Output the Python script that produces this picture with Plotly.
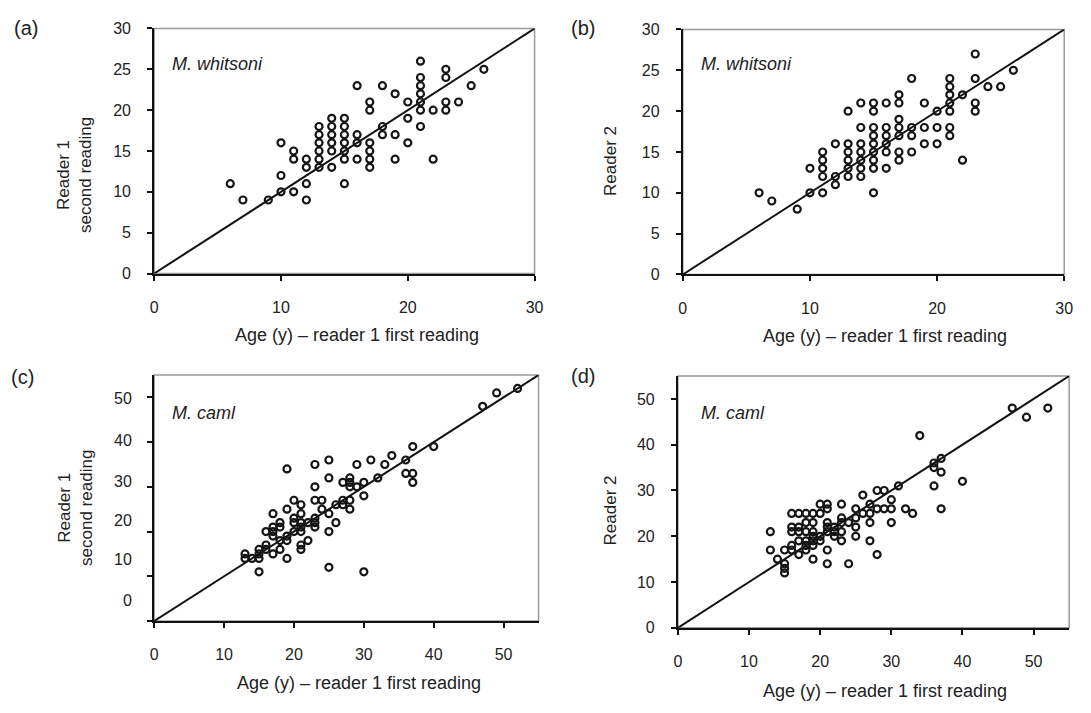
import plotly.graph_objects as go

# ---------------- data ----------------
# (a) M. whitsoni: reader 1 first reading vs reader 1 second reading
A_FIRST = [6, 7, 9, 10, 10, 10, 11, 11, 11, 12, 12, 12, 12,
           13, 13, 13, 13, 13, 13, 14, 14, 14, 14, 14, 14,
           15, 15, 15, 15, 15, 15, 15, 16, 16, 16, 16,
           17, 17, 17, 17, 17, 17, 18, 18, 18, 19, 19, 19, 20, 20, 20,
           21, 21, 21, 21, 21, 21, 21, 22, 22, 23, 23, 23, 23, 24, 25, 26]
A_SECOND = [11, 9, 9, 10, 12, 16, 10, 14, 15, 11, 9, 13, 14,
            13, 14, 15, 16, 17, 18, 19, 18, 17, 16, 15, 13,
            19, 18, 17, 16, 15, 14, 11, 23, 17, 16, 14,
            21, 20, 16, 15, 14, 13, 23, 18, 17, 22, 17, 14, 21, 19, 16,
            26, 24, 23, 22, 21, 20, 18, 20, 14, 25, 24, 21, 20, 21, 23, 25]

# (b) M. whitsoni: reader 1 first reading vs reader 2
B_FIRST = [6, 7, 9, 10, 10, 11, 11, 11, 11, 11, 12, 12, 12,
           13, 13, 13, 13, 13, 13, 14, 14, 14, 14, 14, 14, 14,
           15, 15, 15, 15, 15, 15, 15, 15, 15, 16, 16, 16, 16, 16, 16,
           17, 17, 17, 17, 17, 17, 17, 18, 18, 18, 18, 19, 19, 19,
           20, 20, 20, 21, 21, 21, 21, 21, 21, 21, 22, 22,
           23, 23, 23, 23, 24, 25, 26]
B_READER2 = [10, 9, 8, 10, 13, 15, 14, 13, 12, 10, 16, 12, 11,
             20, 16, 15, 14, 13, 12, 21, 18, 16, 15, 14, 13, 12,
             21, 20, 18, 17, 16, 15, 14, 13, 10, 21, 18, 17, 16, 15, 13,
             22, 21, 19, 18, 17, 15, 14, 24, 18, 17, 15, 21, 18, 16,
             20, 18, 16, 24, 23, 22, 21, 20, 18, 17, 22, 14,
             27, 24, 21, 20, 23, 23, 25]

# (c) M. caml: reader 1 first reading vs reader 1 second reading
C_FIRST = [52, 49, 47, 40, 37, 37, 37, 36, 36, 34, 33, 32, 31,
           30, 30, 30, 29, 29, 28, 28, 28, 28, 28, 27, 27, 27, 26, 26,
           25, 25, 25, 25, 25, 24, 24, 23, 23, 23, 23, 23, 23, 22, 22,
           21, 21, 21, 21, 21, 21, 21, 20, 20, 20, 20,
           19, 19, 19, 19, 19, 18, 18, 18, 18, 17, 17, 17, 17, 17,
           16, 16, 16, 15, 15, 15, 15, 14, 13, 13]
C_SECOND = [52, 51, 48, 39, 39, 33, 31, 36, 33, 37, 35, 32, 36,
            31, 28, 11, 35, 30, 32, 31, 30, 27, 25, 31, 27, 26, 26, 22,
            36, 32, 24, 20, 12, 27, 25, 35, 30, 27, 23, 22, 21, 22, 18,
            26, 24, 22, 21, 20, 17, 16, 27, 23, 22, 20,
            34, 25, 19, 18, 14, 22, 21, 18, 16, 24, 21, 20, 19, 15,
            20, 17, 16, 16, 15, 14, 11, 14, 15, 14]

# (d) M. caml: reader 1 first reading vs reader 2
D_FIRST = [52, 49, 47, 34, 40, 37, 37, 37, 36, 36, 36, 31, 33, 32,
           30, 30, 30, 29, 29, 28, 28, 28, 27, 27, 27, 27, 26, 26,
           25, 25, 25, 25, 24, 24, 23, 23, 23, 23, 23, 22, 22, 22,
           21, 21, 21, 21, 21, 21, 21, 20, 20, 20, 20,
           19, 19, 19, 19, 19, 19, 19, 18, 18, 18, 18, 18, 18,
           17, 17, 17, 17, 17, 16, 16, 16, 16, 16, 15, 15, 15, 15, 14, 13, 13]
D_READER2 = [48, 46, 48, 42, 32, 37, 34, 26, 36, 35, 31, 31, 25, 26,
             28, 26, 23, 30, 26, 30, 26, 16, 27, 25, 23, 19, 29, 25,
             26, 24, 22, 20, 23, 14, 27, 24, 23, 21, 19, 22, 21, 20,
             27, 26, 23, 22, 21, 17, 14, 27, 25, 20, 19,
             25, 23, 21, 20, 19, 18, 15, 25, 23, 21, 19, 18, 17,
             25, 22, 21, 19, 16, 25, 22, 21, 18, 17, 17, 14, 13, 12, 15, 21, 17]

PANEL_LETTERS = ["(a)", "(b)", "(c)", "(d)"]
SPECIES = ["M. whitsoni", "M. whitsoni", "M. caml", "M. caml"]
Y_TITLES = ["Reader 1<br>second reading", "Reader 2", "Reader 1<br>second reading", "Reader 2"]
X_TITLE = "Age (y) \u2013 reader 1 first reading"
AXIS_MAX = [30, 30, 55, 55]
X_DTICK = [10, 10, 10, 10]
Y_DTICK = [5, 5, 10, 10]
C_YTICK_TEXT = ["50", "40", "30", "20", "10", "0"]
C_YTICK_AT = [49.8, 40.4, 31.1, 22.4, 13.7, 4.7]   # label positions as printed in panel (c)

# ---------------- layout geometry (pixels) ----------------
W, H = 1091, 713
FONT = "Liberation Sans, Arial, sans-serif"
BOX = [  # left, right, top, bottom
    (152, 537, 21, 272),
    (687, 1073, 22, 273),
    (152, 541, 376, 628),
    (682, 1078, 377, 635),
]
LETTER_POS = [(8, 20), (572, 20), (5, 378), (572, 377)]
SPECIES_POS = [(168, 57), (703, 57), (168, 415), (703, 415)]
YTITLE_POS = [(72, 171), (614, 157), (73, 512), (614, 515)]
XTITLE_POS = [(357, 335), (892, 336), (359, 691), (892, 700)]

data = [(A_FIRST, A_SECOND), (B_FIRST, B_READER2), (C_FIRST, C_SECOND), (D_FIRST, D_READER2)]

fig = go.Figure()
annotations = []
shapes = []
layout_axes = {}

for i in range(4):
    n = i + 1
    xs, ys = data[i]
    xa = "x" if n == 1 else f"x{n}"
    ya = "y" if n == 1 else f"y{n}"
    l, r, t, b = BOX[i]
    mx = AXIS_MAX[i]

    # 1:1 line
    fig.add_trace(go.Scatter(x=[0, mx], y=[0, mx], mode="lines",
                             line=dict(color="#111", width=2),
                             xaxis=xa, yaxis=ya, showlegend=False, hoverinfo="skip"))
    # points
    fig.add_trace(go.Scatter(x=xs, y=ys, mode="markers",
                             marker=dict(symbol="circle-open", size=7,
                                         color="#151515", line=dict(width=2.2, color="#151515")),
                             xaxis=xa, yaxis=ya, showlegend=False))

    xkey = "xaxis" if n == 1 else f"xaxis{n}"
    ykey = "yaxis" if n == 1 else f"yaxis{n}"
    layout_axes[xkey] = dict(
        domain=[l / W, r / W], range=[0, mx], anchor=ya,
        dtick=X_DTICK[i], tick0=0, showgrid=False, zeroline=False,
        showline=True, linecolor="#111", linewidth=2,
        ticks="outside", ticklen=5, tickwidth=2, tickcolor="#111",
        tickfont=dict(family=FONT, size=16, color="#222"),
        ticklabelstandoff=13,
    )
    layout_axes[ykey] = dict(
        domain=[1 - b / H, 1 - t / H], range=[0, mx], anchor=xa,
        dtick=Y_DTICK[i], tick0=0, showgrid=False, zeroline=False,
        showline=True, linecolor="#111", linewidth=2,
        ticks="outside", ticklen=5, tickwidth=2, tickcolor="#111",
        tickfont=dict(family=FONT, size=16, color="#222"),
        ticklabelstandoff=13,
        showticklabels=(n != 3),
    )

    # grey frame
    shapes.append(dict(type="rect", xref=f"{xa} domain", yref=f"{ya} domain",
                       x0=0, x1=1, y0=0, y1=1, layer="below",
                       line=dict(color="#9a9a9a", width=1.5)))

    lx, ly = LETTER_POS[i]
    annotations.append(dict(text=PANEL_LETTERS[i], x=lx / W, y=1 - ly / H, xref="paper", yref="paper",
                            xanchor="left", yanchor="middle", showarrow=False,
                            font=dict(family=FONT, size=20, color="#222")))
    sx, sy = SPECIES_POS[i]
    annotations.append(dict(text=f"<i>{SPECIES[i]}</i>", x=sx / W, y=1 - sy / H, xref="paper", yref="paper",
                            xanchor="left", yanchor="middle", showarrow=False,
                            font=dict(family=FONT, size=18, color="#222")))
    tx, ty = YTITLE_POS[i]
    annotations.append(dict(text=Y_TITLES[i], x=tx / W, y=1 - ty / H, xref="paper", yref="paper",
                            xanchor="center", yanchor="middle", showarrow=False, textangle=-90,
                            font=dict(family=FONT, size=17, color="#222")))
    qx, qy = XTITLE_POS[i]
    annotations.append(dict(text=X_TITLE, x=qx / W, y=1 - qy / H, xref="paper", yref="paper",
                            xanchor="center", yanchor="middle", showarrow=False,
                            font=dict(family=FONT, size=18, color="#222")))

# panel (c) y tick labels, printed offset from their ticks in the original figure
for txt, pos in zip(C_YTICK_TEXT, C_YTICK_AT):
    annotations.append(dict(text=txt, x=132 / W, y=pos, xref="paper", yref="y3",
                            xanchor="right", yanchor="middle", showarrow=False,
                            font=dict(family=FONT, size=16, color="#222")))

fig.update_layout(
    width=W, height=H, margin=dict(l=0, r=0, t=0, b=0),
    paper_bgcolor="white", plot_bgcolor="white",
    annotations=annotations, shapes=shapes,
    **layout_axes,
)

fig.write_html("out.html")
